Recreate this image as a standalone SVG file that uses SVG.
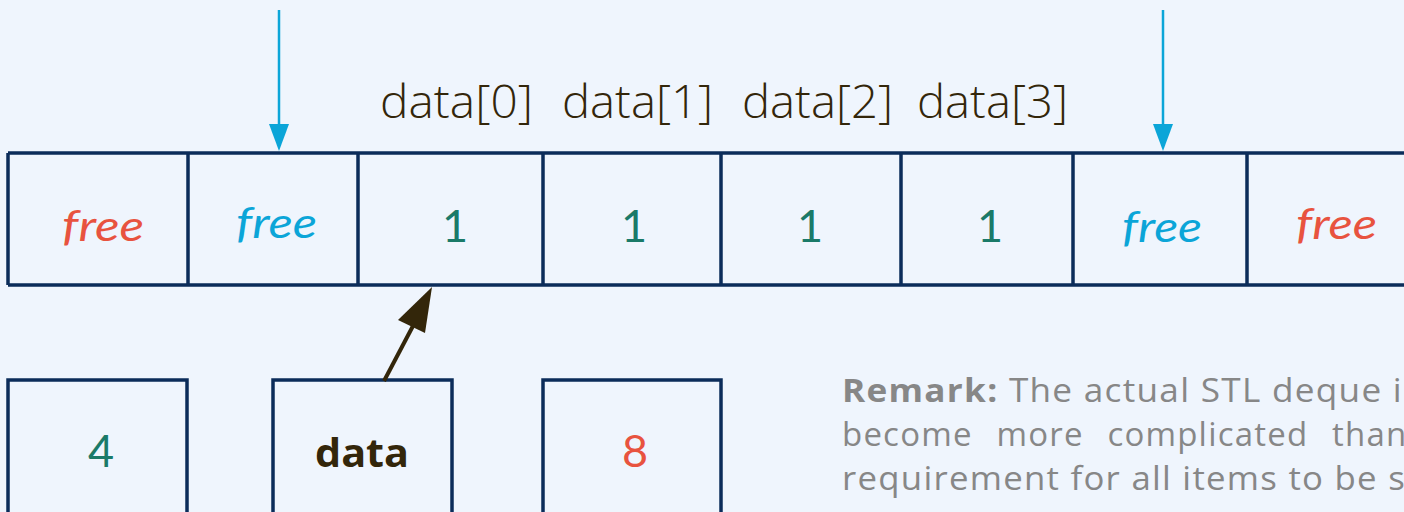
<svg xmlns="http://www.w3.org/2000/svg" width="1404" height="512" viewBox="0 0 1404 512">
  <style>
    .cell { fill: none; stroke: #0b2c5a; stroke-width: 3.5; }
    .free { font-family: Lato, "Noto Sans", sans-serif; font-style: italic; font-size: 42px; }
    .red { fill: #e8533f; }
    .blue { fill: #0ba5d8; }
    .num { font-family: Lato, "Noto Sans", sans-serif; font-size: 45px; fill: #1a7a68; text-anchor: middle; }
    .idx { font-family: "Open Sans", "Noto Sans", sans-serif; font-weight: 300; font-size: 46px; fill: #33260a; }
    .remark { font-family: "Open Sans", "Noto Sans", sans-serif; font-size: 33px; fill: #878787; letter-spacing: 1.2px; }
    .ptr { stroke: #0ba5d8; stroke-width: 2.5; }
  </style>
  <rect width="1404" height="512" fill="#eff5fd"/>

  <!-- index labels above the buffer -->
  <g id="labels">
    <text class="idx" x="380" y="118" textLength="153" lengthAdjust="spacingAndGlyphs">data[0]</text>
    <text class="idx" x="562" y="118" textLength="151" lengthAdjust="spacingAndGlyphs">data[1]</text>
    <text class="idx" x="742" y="118" textLength="151" lengthAdjust="spacingAndGlyphs">data[2]</text>
    <text class="idx" x="917" y="118" textLength="151" lengthAdjust="spacingAndGlyphs">data[3]</text>
  </g>

  <!-- buffer row -->
  <g id="buffer">
    <path class="cell" d="M8 153 H1410 M8 285 H1410 M8 153 V285 M188 153 V285 M358 153 V285 M543 153 V285 M721 153 V285 M901 153 V285 M1073 153 V285 M1247 153 V285"/>
    <text class="free red" x="62" y="241" textLength="82" lengthAdjust="spacingAndGlyphs">free</text>
    <text class="free blue" x="236" y="238" textLength="81" lengthAdjust="spacingAndGlyphs">free</text>
    <text class="num" x="455" y="242">1</text>
    <text class="num" x="634" y="242">1</text>
    <text class="num" x="810" y="242">1</text>
    <text class="num" x="990" y="242">1</text>
    <text class="free blue" x="1122" y="242" textLength="80" lengthAdjust="spacingAndGlyphs">free</text>
    <text class="free red" x="1296" y="239" textLength="81" lengthAdjust="spacingAndGlyphs">free</text>
  </g>

  <!-- member fields -->
  <g id="count">
    <rect class="cell" x="8" y="380" width="179" height="160"/>
    <text class="num" x="101" y="467">4</text>
  </g>
  <g id="dataptr">
    <rect class="cell" x="273" y="380" width="179" height="160"/>
    <text x="362" y="467" text-anchor="middle" font-family="'Open Sans', 'Noto Sans', sans-serif" font-weight="700" font-size="40" fill="#33260a" textLength="94" lengthAdjust="spacingAndGlyphs">data</text>
  </g>
  <g id="capacity">
    <rect class="cell" x="543" y="380" width="178" height="160"/>
    <text x="635" y="467" text-anchor="middle" font-family="Lato, 'Noto Sans', sans-serif" font-size="45" fill="#e8533f">8</text>
  </g>

  <!-- pointers -->
  <g id="connectors">
    <line class="ptr" x1="279" y1="10" x2="279" y2="128"/>
    <polygon points="269,124 289,124 279,151" fill="#0ba5d8"/>
    <line class="ptr" x1="1163" y1="10" x2="1163" y2="128"/>
    <polygon points="1153,124 1173,124 1163,151" fill="#0ba5d8"/>
    <line x1="384" y1="381" x2="414" y2="324" stroke="#33260a" stroke-width="4"/>
    <polygon points="432,287 398,320 425,333" fill="#33260a"/>
  </g>

  <!-- note, justified paragraph running past the right edge -->
  <g id="note">
    <text class="remark" x="842" y="402" textLength="561" lengthAdjust="spacingAndGlyphs"><tspan font-weight="700">Remark:</tspan> The actual STL deque i</text>
    <text class="remark" x="842" y="446" word-spacing="14">become more complicated than</text>
    <text class="remark" x="842" y="490" textLength="564" lengthAdjust="spacingAndGlyphs">requirement for all items to be s</text>
  </g>
</svg>
